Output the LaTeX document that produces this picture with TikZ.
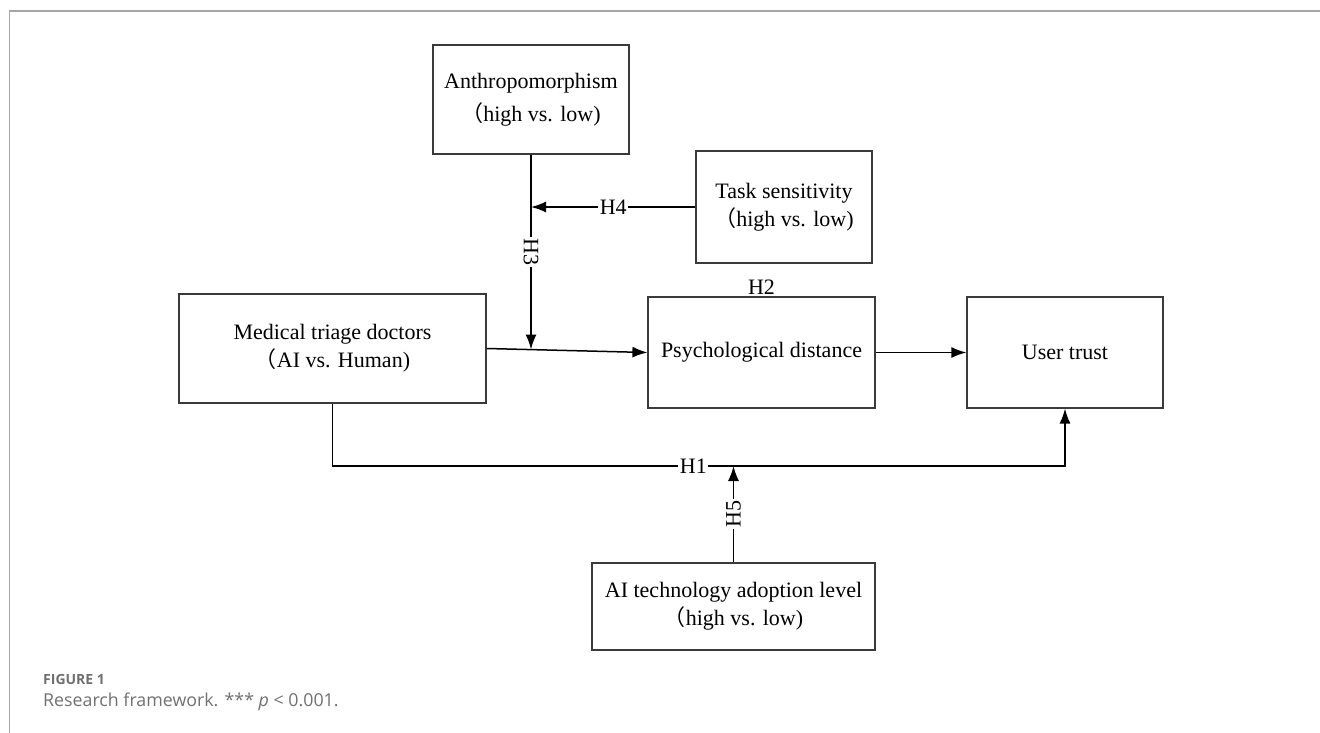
\documentclass[tikz,border=0pt]{standalone}
\usepackage{fontspec}
\setmainfont{Liberation Serif}
\newfontfamily\capfont{Open Sans}
\newfontfamily\cjk{Noto Sans CJK SC}
\usetikzlibrary{arrows.meta}
\definecolor{framegray}{HTML}{A6A6A6}
\definecolor{capgray}{HTML}{707070}
\definecolor{boxline}{HTML}{3A3A3A}
\newcommand{\lparen}{{\cjk （}}

\tikzset{
  box/.style={draw=boxline, line width=1.2pt, align=center, inner sep=0pt,
    font=\fontsize{22}{28}\selectfont},
  link/.style={draw=black, line width=1.5pt, -{Latex[length=15pt,width=11pt]}},
  hyp/.style={fill=white, inner sep=1.5pt, font=\fontsize{22}{24}\selectfont},
}

\begin{document}
\begin{tikzpicture}[x=1pt,y=-1pt]
  \useasboundingbox (0,0) rectangle (1320,733);
  % frame
  \draw[framegray, line width=2pt] (9,11) -- (1320,11);
  \draw[framegray, line width=1pt] (9,11) -- (9,733);
  % boxes
  \node[box, minimum width=196pt, minimum height=109pt] (anthro) at (531,99.5) {Anthropomorphism\\[5pt]\lparen high vs. low)};
  \node[box, minimum width=176pt, minimum height=112pt] (task) at (784,207) {Task sensitivity\\\lparen high vs. low)};
  \node[box, minimum width=307pt, minimum height=109pt] (medical) at (332.5,348.5) {Medical triage doctors\\\lparen AI vs. Human)};
  \node[box, minimum width=227pt, minimum height=111pt] (psych) at (761.5,352.5) {Psychological distance};
  \node[box, minimum width=196pt, minimum height=111pt] (user) at (1065,352.5) {User trust};
  \node[box, minimum width=283pt, minimum height=87pt] (adopt) at (733.5,606.5) {AI technology adoption level\\\lparen high vs. low)};
  \node[hyp, fill=none, anchor=south] (h2) at (psych.north) {H2};
  % connectors
  \coordinate (h3end) at (531,349.5);
  \coordinate (h4end) at (anthro.south |- task.west);
  \coordinate (h5end) at (733.5,466);
  \draw[link] (anthro.south) -- node[hyp, rotate=-90] {H3} (h3end);
  \draw[link] (task.west) -- node[hyp] {H4} (h4end);
  \draw[link] (medical.east) -- (psych.west);
  \draw[link] (psych.east) -- (user.west);
  \draw[link] (medical.south) |- node[hyp, pos=0.95] {H1} (h5end) -| (user.south);
  \draw[link] (adopt.north) -- node[hyp, rotate=90] {H5} (h5end);
  % caption
  \node[anchor=west, inner sep=0pt, text=capgray, font=\capfont\bfseries\fontsize{14}{16}\selectfont] (figno) at (43,679) {FIGURE 1};
  \node[anchor=west, inner sep=0pt, text=capgray, font=\capfont\fontsize{17.8}{20}\selectfont] (caption) at (43,702) {Research framework. *** \textit{p} < 0.001.};
\end{tikzpicture}
\end{document}
